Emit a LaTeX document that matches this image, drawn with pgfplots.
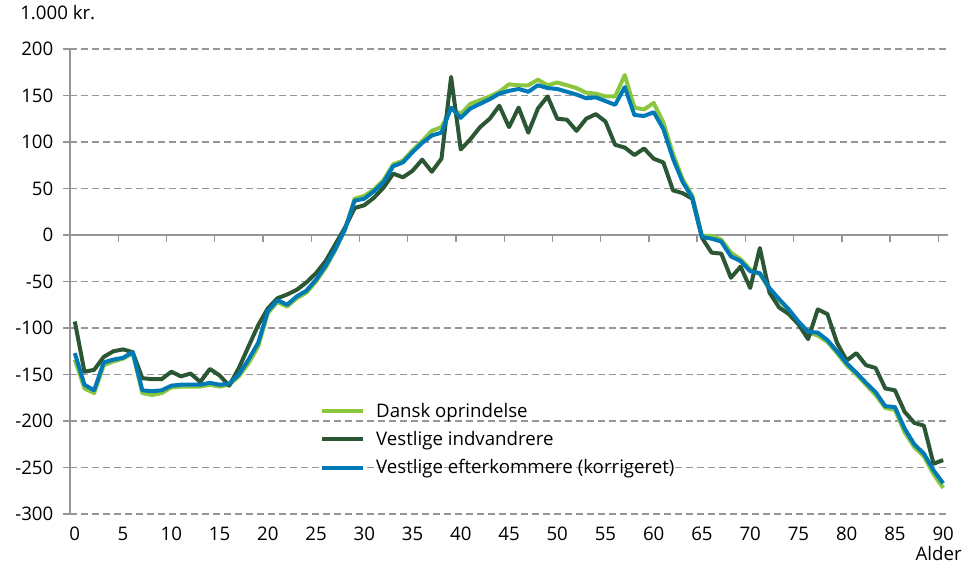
\documentclass[border=0pt]{standalone}
\usepackage{fontspec}
\setmainfont{Open Sans}
\usepackage{pgfplots}
\pgfplotsset{compat=1.18}
\usepackage{pgfplotstable}
\definecolor{lgreen}{RGB}{140,198,63}
\definecolor{dgreen}{RGB}{44,87,52}
\definecolor{dblue}{RGB}{0,122,182}
\definecolor{gridgray}{RGB}{150,150,150}

\pgfplotstableread{
age dk vi ve
0 -134 -93 -127
1 -165 -147 -161
2 -170 -145 -167
3 -140 -131 -137
4 -136 -125 -134
5 -133 -123 -132
6 -127 -126 -126
7 -170 -154 -167
8 -172 -155 -168
9 -170 -155 -167
10 -164 -147 -162
11 -163 -152 -161
12 -163 -149 -161
13 -163 -158 -161
14 -161 -144 -159
15 -163 -151 -161
16 -161 -162 -160
17 -152 -143 -150
18 -138 -120 -134
19 -120 -97 -116
20 -84 -79 -82
21 -72 -68 -70
22 -77 -64 -75
23 -68 -59 -66
24 -62 -51 -60
25 -50 -41 -48
26 -35 -28 -33
27 -16 -10 -15
28 6 8 6
29 39 29 37
30 42 32 39
31 49 40 47
32 59 51 57
33 76 66 74
34 80 62 78
35 91 69 89
36 101 81 99
37 112 68 107
38 116 82 110
39 136 170 137
40 130 92 126
41 141 103 136
42 145 116 141
43 149 125 146
44 154 139 152
45 162 116 155
46 161 137 157
47 161 110 154
48 167 136 161
49 161 149 158
50 164 125 157
51 161 124 154
52 158 112 151
53 153 125 147
54 152 130 148
55 149 122 144
56 149 97 140
57 172 94 159
58 137 86 129
59 135 93 128
60 142 82 132
61 121 78 114
62 87 48 82
63 60 45 57
64 42 39 40
65 -1 -3 -2
66 -1 -19 -4
67 -5 -20 -7
68 -19 -46 -23
69 -26 -34 -28
70 -37 -57 -39
71 -42 -14 -41
72 -59 -62 -57
73 -70 -78 -69
74 -81 -85 -80
75 -94 -96 -93
76 -105 -112 -104
77 -108 -80 -105
78 -115 -85 -113
79 -127 -116 -125
80 -140 -135 -138
81 -150 -127 -148
82 -161 -140 -159
83 -172 -143 -169
84 -186 -165 -184
85 -188 -167 -185
86 -212 -190 -208
87 -228 -202 -225
88 -238 -205 -235
89 -257 -246 -253
90 -272 -242 -267
}\data

\begin{document}
\begin{tikzpicture}[font=\fontsize{14}{16.5}\selectfont]
\path[use as bounding box] (-52.5pt,-37.5pt) rectangle (673.5pt,385.5pt);
\begin{axis}[
  scale only axis, width=658.5pt, height=348.75pt,
  xmin=-0.5, xmax=90.5, ymin=-300, ymax=200,
  axis y line*=left, axis x line*=bottom,
  x axis line style={draw=none},
  y axis line style={draw=gridgray, line width=1pt, -},
  xtick={0,5,...,90}, xtick style={draw=none},
  ytick={-300,-250,...,200},
  ytick style={draw=gridgray, line width=1pt},
  tick align=outside, major tick length=5pt,
  ymajorgrids,
  major grid style={gridgray, line width=1pt, dash pattern=on 5.25pt off 3pt},
  /pgf/number format/assume math mode=true,
  /pgf/number format/1000 sep={},
  tick label style={font=\fontsize{14}{16.5}\selectfont},
  xticklabel style={yshift=-1.5pt},
  yticklabel style={xshift=-4pt},
  clip=false,
  legend style={at={(axis cs:25.4,-177.5)}, anchor=north west, draw=none, fill=none,
    inner sep=0pt, row sep=5pt, font=\fontsize{14}{16.5}\selectfont,
    /tikz/every odd column/.append style={column sep=6pt}},
  legend cell align=left,
  legend image code/.code={\draw[#1, line width=3pt] (0pt,0pt) -- (31pt,0pt);},
]
\draw[gridgray, line width=1pt] (axis cs:-0.5,0) -- (axis cs:90.5,0);
\pgfplotsinvokeforeach{4.5,9.5,14.5,19.5,24.5,29.5,34.5,39.5,44.5,49.5,54.5,59.5,64.5,69.5,74.5,79.5,84.5,89.5}{
  \draw[gridgray, line width=1pt] (axis cs:#1,0) -- ++(0pt,-5pt);
}
\addplot[lgreen, line width=3pt, line join=round] table[x=age, y=dk]{\data};
\addlegendentry{Dansk oprindelse}
\addplot[dgreen, line width=3pt, line join=round] table[x=age, y=vi]{\data};
\addlegendentry{Vestlige indvandrere}
\addplot[dblue, line width=3pt, line join=round] table[x=age, y=ve]{\data};
\addlegendentry{Vestlige efterkommere (korrigeret)}
\end{axis}
\node[anchor=base west, inner sep=0pt] at (-37.5pt,371pt) {1.000 kr.};
\node[anchor=base east, inner sep=0pt] at (669pt,-35pt) {Alder};
\end{tikzpicture}
\end{document}
